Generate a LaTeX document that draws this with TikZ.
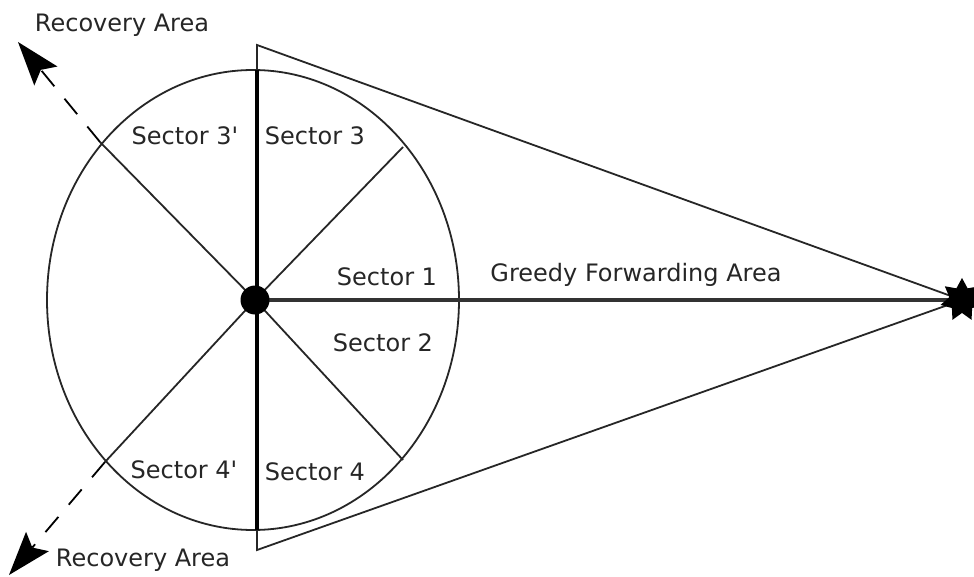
\documentclass[tikz,border=0pt]{standalone}
\usepackage{fontspec}
\setmainfont{DejaVu Sans}[Ligatures=TeXOff]
\usetikzlibrary{calc,shapes.geometric}
\begin{document}
\begin{tikzpicture}[x=1pt,y=-1pt,
  lbl/.style={font=\fontsize{24}{28}\selectfont, text=black!85, inner sep=0pt},
  thin line/.style={draw=black!85, line width=1.8pt},
  recdash/.style={draw=black, line width=1.8pt, dash pattern=on 20pt off 16pt}]
\useasboundingbox (0,0) rectangle (974,577);
\fill[white] (0,0) rectangle (974,577);
% key points
\coordinate (ctr) at (253,300);
\coordinate (apex) at (257,45);
\coordinate (base) at (257,550);
\coordinate (ttop) at (257,70);
\coordinate (tbot) at (257,530);
\coordinate (ur) at (403,147);
\coordinate (ul) at (100,142);
\coordinate (ll) at (105,462);
\coordinate (lr) at (403,460);
\coordinate (arrUL) at (18,42);
\coordinate (arrLL) at (9,575);
% arrowhead helper points
\coordinate (hbUL) at ($(arrUL)!44pt!(ul)$);
\coordinate (hiUL) at ($(arrUL)!36pt!(ul)$);
\coordinate (hbLL) at ($(arrLL)!44pt!(ll)$);
\coordinate (hiLL) at ($(arrLL)!36pt!(ll)$);
% circle
\draw[thin line] (ctr) ellipse [x radius=206, y radius=230];
% nodes
\node[circle, minimum size=30pt, inner sep=0pt] (c) at (255,300) {};
\node[star, star points=7, star point ratio=1.7, minimum size=44pt, inner sep=0pt] (t) at (962,300) {};
% triangle (greedy forwarding area)
\draw[thin line] (base) -- (apex) -- (t.center) -- cycle;
% thick vertical line
\draw[black, line width=4pt] (ttop) -- (tbot);
% horizontal line
\draw[black!80, line width=3.5pt] (c.center) -- (t.center);
% diagonals
\draw[thin line] (c.center) -- (ur);
\draw[thin line] (c.center) -- (ul);
\draw[thin line] (c.center) -- (ll);
\draw[thin line] (c.center) -- (lr);
% recovery arrows
\draw[recdash] (ul) -- (hiUL);
\fill[black] (arrUL) -- ($(hbUL)!15pt!90:(arrUL)$) -- (hiUL) -- ($(hbUL)!15pt!-90:(arrUL)$) -- cycle;
\draw[recdash] (ll) -- (hiLL);
\fill[black] (arrLL) -- ($(hbLL)!15pt!90:(arrLL)$) -- (hiLL) -- ($(hbLL)!15pt!-90:(arrLL)$) -- cycle;
% dots on top
\fill[black] (c.center) circle [radius=14.5];
\node[star, star points=7, star point ratio=1.7, fill=black, minimum size=44pt, inner sep=0pt] at (t.center) {};
% labels
\node[lbl] (ra1) at (122,25) {Recovery Area};
\node[lbl] (s3p) at (185,136) {Sector 3'};
\node[lbl] (s3) at (315,136) {Sector 3};
\node[lbl] (s1) at (387,277) {Sector 1};
\node[lbl] (gfa) at (636,275) {Greedy Forwarding Area};
\node[lbl] (s2) at (383,343) {Sector 2};
\node[lbl] (s4p) at (184,470) {Sector 4'};
\node[lbl] (s4) at (315,472) {Sector 4};
\node[lbl] (ra2) at (143,560) {Recovery Area};
\end{tikzpicture}
\end{document}
